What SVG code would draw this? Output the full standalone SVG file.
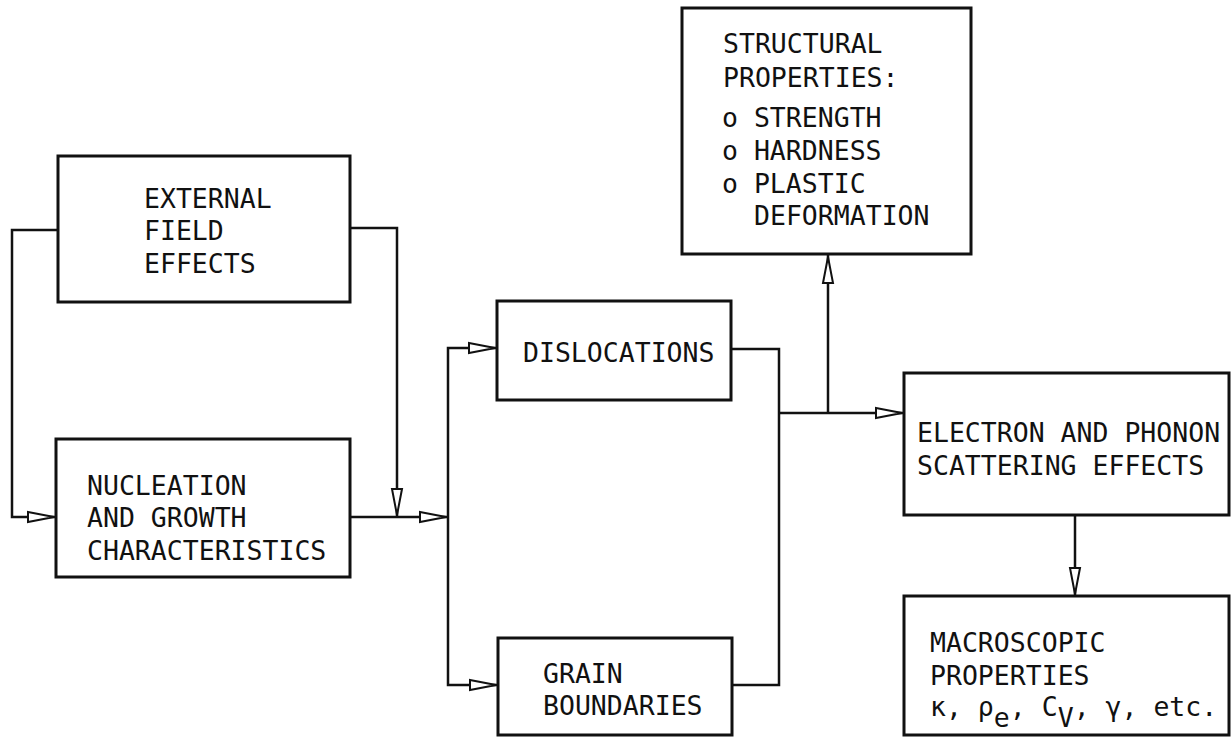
<svg xmlns="http://www.w3.org/2000/svg" width="1231" height="737" viewBox="0 0 1231 737">
<style>
.box{fill:#fff;stroke:#111;stroke-width:3}
.ln{fill:none;stroke:#111;stroke-width:2.5}
text{font-family:"DejaVu Sans Mono","Liberation Mono",monospace;font-size:26.5px;fill:#111}
</style>
<defs>
<marker id="ah" viewBox="0 0 32 14" refX="31" refY="7" markerWidth="32" markerHeight="14" markerUnits="userSpaceOnUse" orient="auto">
<path d="M3,2 L29,7 L3,12 Z" fill="#fff" stroke="#111" stroke-width="2"/>
</marker>
</defs>
<rect width="1231" height="737" fill="#fff"/>
<g id="connectors">
<path class="ln" d="M58,230 H12 V517 H56" marker-end="url(#ah)"/>
<path class="ln" d="M350,228 H397 V517" marker-end="url(#ah)"/>
<path class="ln" d="M350,517 H448" marker-end="url(#ah)"/>
<path class="ln" d="M448,517 V348 H497" marker-end="url(#ah)"/>
<path class="ln" d="M448,517 V685 H498" marker-end="url(#ah)"/>
<path class="ln" d="M731,349 H779 V685 H732"/>
<path class="ln" d="M779,413 H904" marker-end="url(#ah)"/>
<path class="ln" d="M828,413 V255" marker-end="url(#ah)"/>
<path class="ln" d="M1075,515 V596" marker-end="url(#ah)"/>
</g>
<g id="external">
<rect class="box" x="58" y="156" width="292" height="146"/>
<text x="144" y="208">EXTERNAL</text>
<text x="144" y="240">FIELD</text>
<text x="144" y="273">EFFECTS</text>
</g>
<g id="nucleation">
<rect class="box" x="56" y="439" width="294" height="138"/>
<text x="87" y="495">NUCLEATION</text>
<text x="87" y="527">AND GROWTH</text>
<text x="87" y="560">CHARACTERISTICS</text>
</g>
<g id="dislocations">
<rect class="box" x="497" y="301" width="234" height="99"/>
<text x="523" y="362">DISLOCATIONS</text>
</g>
<g id="grain">
<rect class="box" x="498" y="638" width="234" height="97"/>
<text x="543" y="683">GRAIN</text>
<text x="543" y="715">BOUNDARIES</text>
</g>
<g id="structural">
<rect class="box" x="682" y="8" width="289" height="246"/>
<text x="723" y="53">STRUCTURAL</text>
<text x="723" y="87">PROPERTIES:</text>
<text x="722" y="127">o STRENGTH</text>
<text x="722" y="160">o HARDNESS</text>
<text x="722" y="193">o PLASTIC</text>
<text x="754" y="225">DEFORMATION</text>
</g>
<g id="electron">
<rect class="box" x="904" y="373" width="325" height="142"/>
<text x="917" y="442">ELECTRON AND PHONON</text>
<text x="917" y="475">SCATTERING EFFECTS</text>
</g>
<g id="macroscopic">
<rect class="box" x="904" y="596" width="325" height="139"/>
<text x="930" y="652">MACROSCOPIC</text>
<text x="930" y="685">PROPERTIES</text>
<text x="930" y="716">κ, ρ<tspan dy="11">e</tspan><tspan dy="-11">, C</tspan><tspan dy="11">V</tspan><tspan dy="-11">, γ, etc.</tspan></text>
</g>
</svg>
